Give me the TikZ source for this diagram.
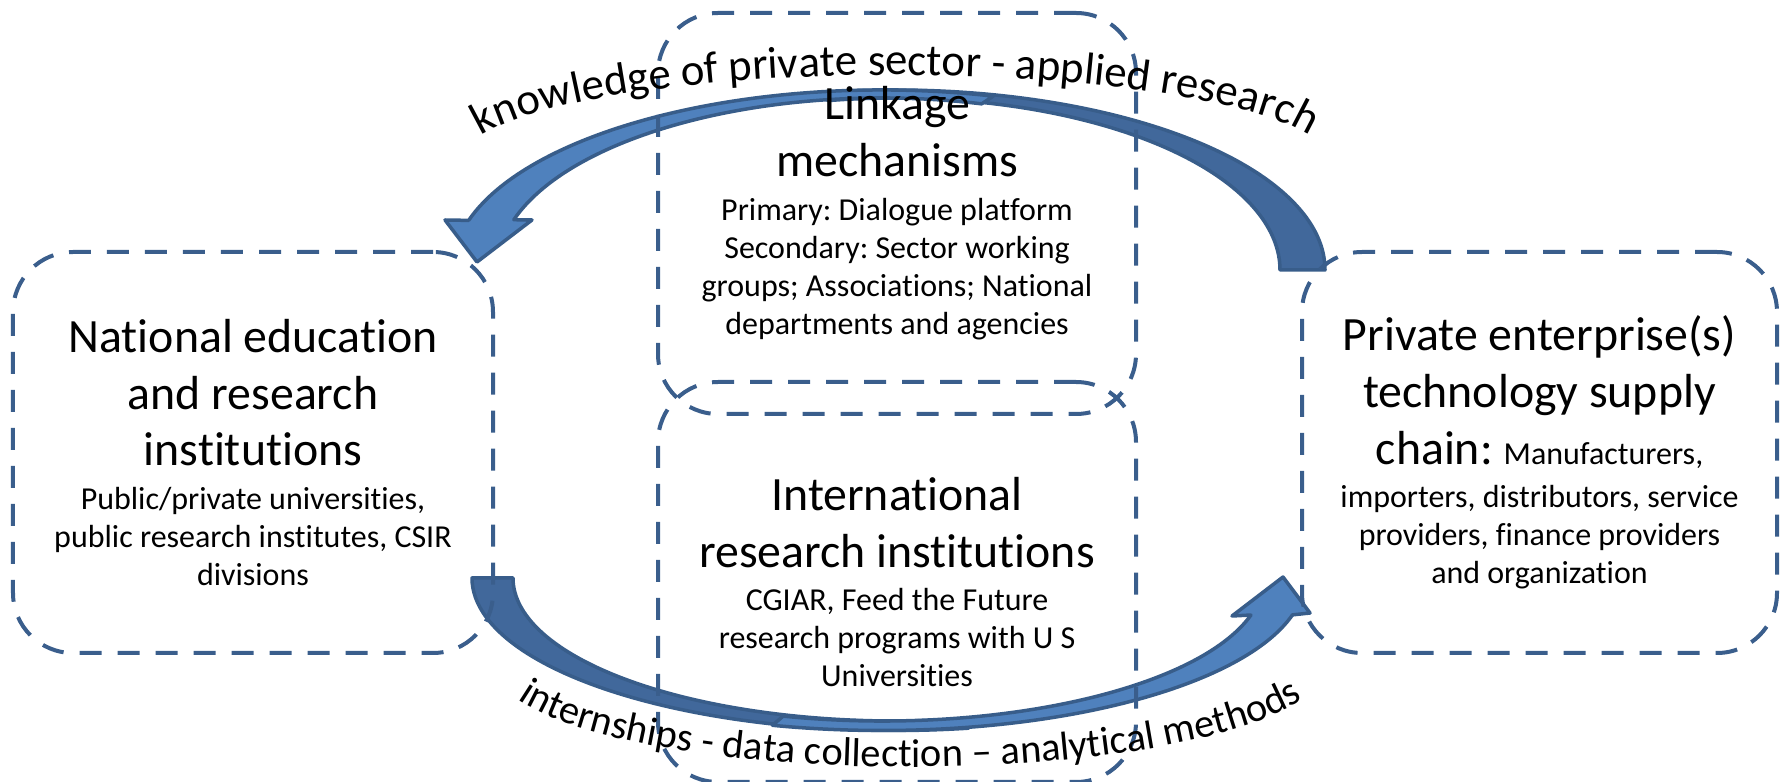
\documentclass[tikz,border=0pt]{standalone}
\usepackage{fontspec}
\setmainfont{Carlito}[Ligatures=NoCommon]
\usepackage{xcolor}
\usetikzlibrary{positioning,decorations.text}
\setlength{\parindent}{0pt}
\frenchspacing

\definecolor{boxline}{RGB}{58,94,140}
\definecolor{arrowfront}{RGB}{79,129,189}
\definecolor{arrowback}{RGB}{65,104,155}
\definecolor{arrowedge}{RGB}{56,93,138}

\newcommand{\titlesize}{\fontsize{27.2}{32.4}\selectfont}
\newcommand{\detailsize}{\fontsize{18.2}{21.6}\selectfont}
\newcommand{\toparcsize}{\fontsize{25.5}{30}\selectfont}
\newcommand{\lowarcsize}{\fontsize{23}{28}\selectfont}

\begin{document}
\begin{tikzpicture}[
    dashbox/.style={
      rectangle, rounded corners=1.2cm, draw=boxline, line width=0.08cm,
      dash pattern=on 0.44cm off 0.32cm, minimum width=9.6cm,
      minimum height=8.02cm, text width=9cm, align=flush center
    },
    frontpart/.style={fill=arrowfront, draw=arrowedge, line width=0.07cm, line join=round},
    backpart/.style={fill=arrowback, draw=arrowedge, line width=0.07cm, line join=round}
  ]
    \useasboundingbox (0,0) rectangle (35.72,15.64);

    % centres of the two curved arrows and of the two arc labels
    \coordinate (topback) at (17.9,10.24);
    \coordinate (topfront) at (17.64,10.24);
    \coordinate (lowback) at (17.9,4.08);
    \coordinate (lowfront) at (17.64,4.08);
    \coordinate (toptext) at (17.9,12.42);
    \coordinate (lowtext) at (18.2,2.3);

    % Upper arrow: private enterprise -> national institutions
    \begin{scope}[shift={(topback)}]
      \draw[backpart] (0:8.6 and 3.6) arc[start angle=0, end angle=100, x radius=8.6, y radius=3.6]
        -- (100:7.7 and 3.44) arc[start angle=100, end angle=0, x radius=7.7, y radius=3.44] -- cycle;
    \end{scope}
    \begin{scope}[shift={(topfront)}]
      \draw[frontpart] (164:8.6 and 3.6) -- (-8.74,1.0) -- (-8.10,0.16) -- (-7.0,1.0)
        -- (163:7.7 and 3.44) arc[start angle=163, end angle=75, x radius=7.7, y radius=3.44]
        -- (75:8.6 and 3.6) arc[start angle=75, end angle=164, x radius=8.6, y radius=3.6] -- cycle;
    \end{scope}

    % Lower arrow: national institutions -> private enterprise
    \begin{scope}[shift={(lowback)}]
      \draw[backpart] (180:8.46 and 3.05) arc[start angle=180, end angle=280, x radius=8.46, y radius=3.05]
        -- (280:7.64 and 2.86) arc[start angle=280, end angle=180, x radius=7.64, y radius=2.86] -- cycle;
    \end{scope}
    \begin{scope}[shift={(lowfront)}]
      \draw[frontpart] (345:7.64 and 2.86) -- (7.0,-0.76) -- (8.02,0.02) -- (8.56,-0.70)
        -- (346:8.46 and 3.05) arc[start angle=346, end angle=255, x radius=8.46, y radius=3.05]
        -- (255:7.64 and 2.86) arc[start angle=255, end angle=345, x radius=7.64, y radius=2.86] -- cycle;
    \end{scope}

    % Boxes
    \node[dashbox] (natl) at (5.06,6.59) {\titlesize National education\\ and research\\ institutions\par
      \vspace{0.12cm}\detailsize Public/private universities,\\ public research institutes, CSIR\\ divisions\par};
    \node[dashbox, minimum width=9.5cm] (priv) at (30.79,6.59) {\titlesize Private enterprise(s)\\ technology supply\\ chain: {\detailsize Manufacturers,}\par
      \vspace{0.1cm}\detailsize importers, distributors, service\\ providers, finance providers\\ and organization\par};
    \node[dashbox, minimum width=9.56cm] (link) at (17.94,11.37) {\titlesize Linkage\\ mechanisms\par
      \vspace{0.12cm}\detailsize Primary: Dialogue platform\\ Secondary: Sector working\\ groups; Associations; National\\ departments and agencies\par};
    \node[dashbox, minimum width=9.56cm, minimum height=8.0cm, below=-0.72cm of link] (intl) {\titlesize International\\ research institutions\par
      \vspace{0.12cm}\detailsize CGIAR, Feed the Future\\ research programs with U S\\ Universities\par};

    % Arc labels
    \path[decorate, decoration={text along path, text align=center,
        text={|\toparcsize|knowledge of private sector - applied research}}]
      (toptext) ++(180:8.66 and 1.72) arc[start angle=180, end angle=0, x radius=8.66, y radius=1.72];
    \path[decorate, decoration={text along path, text align=center,
        text={|\lowarcsize|internships - data collection – analytical methods}}]
      (lowtext) ++(180:8.3 and 2.0) arc[start angle=180, end angle=360, x radius=8.3, y radius=2.0];
  \end{tikzpicture}
\end{document}
